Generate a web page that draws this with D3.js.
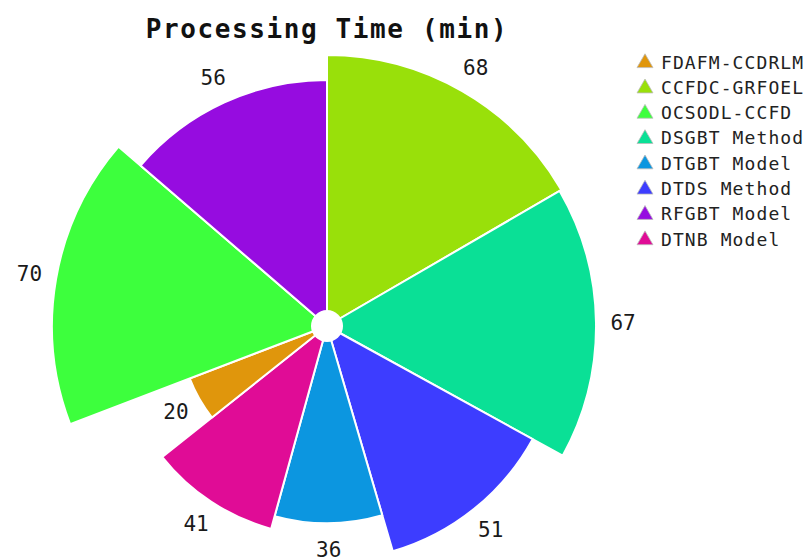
<!DOCTYPE html>
<html>
<head>
<meta charset="utf-8">
<script src="https://cdn.jsdelivr.net/npm/d3@7"></script>
<style>
  html, body { margin: 0; padding: 0; background: #fff; }
  svg { display: block; }
</style>
</head>
<body>
<svg id="chart" width="811" height="558"></svg>
<script>
// Methods in legend order, with their processing times (minutes) and colours
const methods = ["FDAFM-CCDRLM", "CCFDC-GRFOEL", "OCSODL-CCFD", "DSGBT Method",
                 "DTGBT Model", "DTDS Method", "RFGBT Model", "DTNB Model"];
const times   = [20, 68, 70, 67, 36, 51, 56, 41];
const colors  = ["#e0960c", "#99e00a", "#3dff3d", "#0ae096",
                 "#0c96e0", "#3d3dff", "#960ce0", "#e00c96"];
// Clockwise order of the wedges, starting at 12 o'clock
const wedgeOrder = ["CCFDC-GRFOEL", "DSGBT Method", "DTDS Method", "DTGBT Model",
                    "DTNB Model", "FDAFM-CCDRLM", "OCSODL-CCFD", "RFGBT Model"];

const svg = d3.select("#chart");
const cx = 327, cy = 326;
const mono = "'DejaVu Sans Mono', 'Liberation Mono', monospace";

const rows = methods.map((m, i) => ({ name: m, value: times[i], color: colors[i] }));
const byName = new Map(rows.map(d => [d.name, d]));
const ordered = wedgeOrder.map(n => byName.get(n));

// Wedge angle follows the value, and so does the wedge area (sqrt radius)
const pie = d3.pie().sort(null).value(d => d.value);
const rScale = d3.scaleSqrt().domain([0, d3.max(times)]).range([0, 275]);
const arcs = pie(ordered);

const g = svg.append("g").attr("transform", `translate(${cx},${cy})`);

g.selectAll("path.wedge")
  .data(arcs)
  .join("path")
  .attr("class", "wedge")
  .attr("d", d => d3.arc().innerRadius(0).outerRadius(rScale(d.data.value))(d))
  .attr("fill", d => d.data.color)
  .attr("stroke", "#fff")
  .attr("stroke-width", 2)
  .attr("stroke-linejoin", "round");

// white hub
g.append("circle").attr("r", 16).attr("fill", "#fff");

// value labels just beyond each wedge
g.selectAll("text.val")
  .data(arcs)
  .join("text")
  .attr("class", "val")
  .attr("transform", d => {
    const a = (d.startAngle + d.endAngle) / 2;
    const r = rScale(d.data.value) + 27;
    return `translate(${r * Math.sin(a)},${-r * Math.cos(a)})`;
  })
  .attr("text-anchor", "middle")
  .attr("dominant-baseline", "central")
  .attr("font-family", mono)
  .attr("font-size", 21)
  .attr("fill", "#1a1a1a")
  .text(d => d.data.value);

// title
svg.append("text")
  .attr("x", cx)
  .attr("y", 38)
  .attr("text-anchor", "middle")
  .attr("font-family", mono)
  .attr("font-weight", "bold")
  .attr("font-size", 26)
  .attr("letter-spacing", 1.6)
  .attr("fill", "#111")
  .text("Processing Time (min)");

// legend
const legend = svg.append("g").attr("transform", "translate(645,62)");
const item = legend.selectAll("g")
  .data(rows)
  .join("g")
  .attr("transform", (d, i) => `translate(0,${i * 25.3})`);

item.append("path")
  .attr("d", d3.symbol().type(d3.symbolTriangle).size(110))
  .attr("transform", "translate(0,1)")
  .attr("fill", d => d.color)
  .attr("stroke", "#bbb")
  .attr("stroke-width", 0.8);

item.append("text")
  .attr("x", 16)
  .attr("y", 0)
  .attr("dominant-baseline", "central")
  .attr("font-family", mono)
  .attr("font-size", 18)
  .attr("letter-spacing", 1.1)
  .attr("fill", "#222")
  .text(d => d.name);
</script>
</body>
</html>
